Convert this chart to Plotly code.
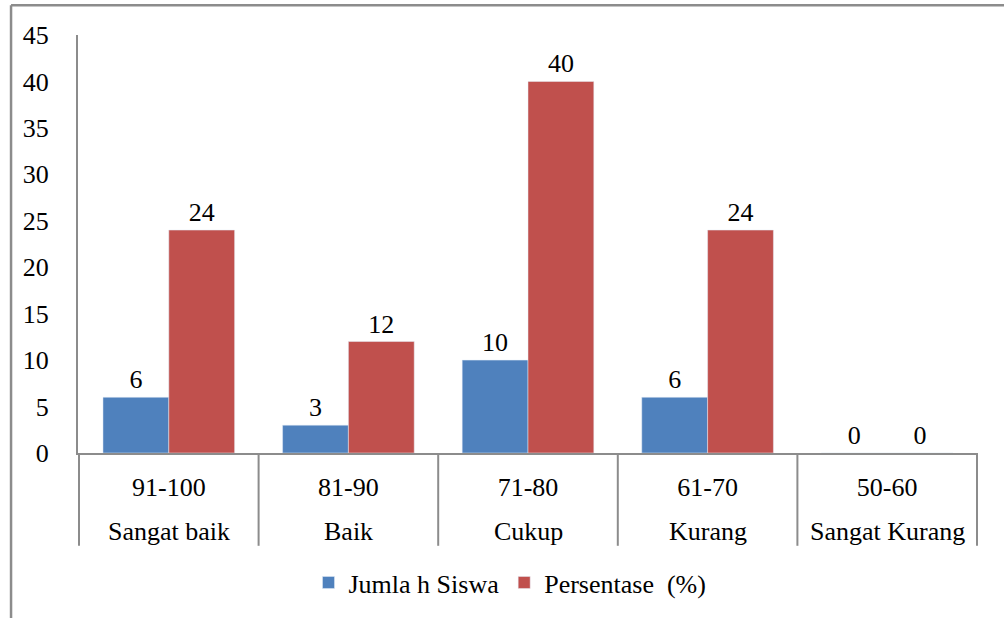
import plotly.graph_objects as go

ranges = ["91-100", "81-90", "71-80", "61-70", "50-60"]
names = ["Sangat baik", "Baik", "Cukup", "Kurang", "Sangat Kurang"]
jumlah = [6, 3, 10, 6, 0]
persen = [24, 12, 40, 24, 0]
series_names = ["Jumla h Siswa", "Persentase\u00a0\u00a0(%)"]
y_ticks = [0, 5, 10, 15, 20, 25, 30, 35, 40, 45]

FONT = "Liberation Serif"
FS = 26
GRAY = "#8c8c8c"

fig = go.Figure()
fig.add_trace(go.Bar(x=ranges, y=jumlah, name=series_names[0], marker_color="#4F81BD",
                     text=jumlah, textposition="outside", cliponaxis=False,
                     textfont=dict(size=FS, color="#000", family=FONT)))
fig.add_trace(go.Bar(x=ranges, y=persen, name=series_names[1], marker_color="#C0504D",
                     text=persen, textposition="outside", cliponaxis=False,
                     textfont=dict(size=FS, color="#000", family=FONT)))

shapes = []
# category dividers below the axis
for i in range(len(ranges) + 1):
    shapes.append(dict(type="line", xref="x", yref="paper", x0=i - 0.5, x1=i - 0.5,
                       y0=0, y1=-0.222, line=dict(color=GRAY, width=2)))
# outer border (top and left)
shapes.append(dict(type="line", xref="paper", yref="paper", x0=-0.0744, x1=1.1, y0=1.0714, y1=1.0714,
                   line=dict(color=GRAY, width=2.5)))
shapes.append(dict(type="line", xref="paper", yref="paper", x0=-0.0744, x1=-0.0744, y0=1.0714, y1=-0.4,
                   line=dict(color=GRAY, width=2.5)))

annotations = []
for i, n in enumerate(names):
    annotations.append(dict(x=ranges[i], xref="x", y=0, yref="paper", text=n, showarrow=False,
                            yanchor="middle", yshift=-78, font=dict(size=FS, family=FONT, color="#000")))

fig.update_layout(
    width=1004, height=618,
    margin=dict(l=78, r=26, t=35, b=163),
    paper_bgcolor="white", plot_bgcolor="white",
    font=dict(family=FONT, size=FS, color="#000"),
    barmode="group", bargap=0.267, bargroupgap=0,
    showlegend=True,
    legend=dict(orientation="h", x=0.48, xanchor="center", y=-0.31, yanchor="middle",
                font=dict(size=FS, family=FONT), itemwidth=30, traceorder="normal"),
    shapes=shapes, annotations=annotations,
    xaxis=dict(type="category", showline=True, linecolor=GRAY, linewidth=2,
               ticks="outside", ticklen=10, tickcolor="rgba(0,0,0,0)",
               showgrid=False, tickfont=dict(size=FS, family=FONT, color="#000")),
    yaxis=dict(range=[0, 45], tickvals=y_ticks, showline=True, linecolor=GRAY, linewidth=2,
               ticks="outside", ticklen=22, tickcolor="rgba(0,0,0,0)",
               showgrid=False, zeroline=False, tickfont=dict(size=FS, family=FONT, color="#000")),
)

fig.write_html("out.html")
